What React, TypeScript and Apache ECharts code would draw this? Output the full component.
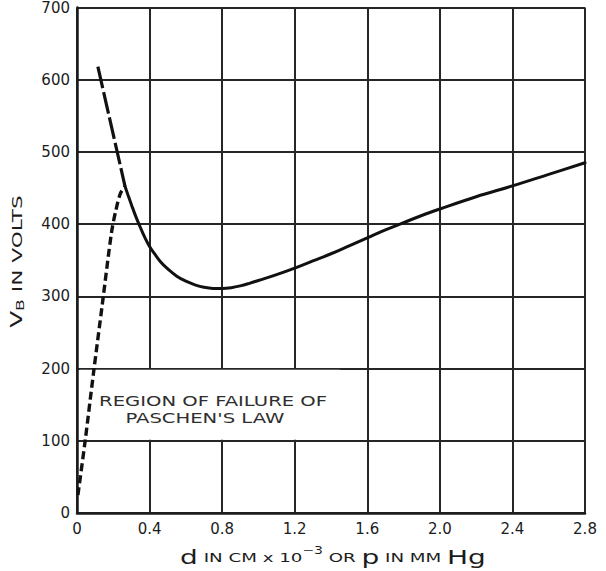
import React, { useEffect, useRef } from "react";
import * as echarts from "echarts";

// X axis: d in cm x 10^-3 (or p in mm Hg); Y axis: V_B in volts
const xMin = 0;
const xMax = 2.8;
const xStep = 0.4;
const yMin = 0;
const yMax = 700;
const yStep = 100;

// Solid curve (Paschen curve)
const solidX = [0.265, 0.28, 0.3, 0.325, 0.35, 0.375, 0.4, 0.43, 0.46, 0.5, 0.55, 0.6, 0.65, 0.7, 0.75, 0.8, 0.85, 0.9, 0.95, 1.0, 1.1, 1.2, 1.3, 1.4, 1.5, 1.6, 1.7, 1.8, 1.9, 2.0, 2.2, 2.4, 2.6, 2.8];
const solidY = [452, 441, 427, 410, 395, 381, 369, 358, 348, 338, 328, 321, 316, 312.5, 311, 311, 312, 314.5, 318, 322, 330, 339, 349, 359, 370, 381, 392, 402, 412, 421, 438, 453, 469, 485];

// Long-dash continuation (extrapolated Paschen law)
const longDashX = [0.115, 0.265];
const longDashY = [618, 452];

// Short-dash measured branch (failure of Paschen's law)
const shortDashX = [0.005, 0.045, 0.09, 0.14, 0.19, 0.215, 0.24, 0.265];
const shortDashY = [25, 100, 192, 290, 388, 420, 443, 452];

// Blank region behind the annotation (data coordinates)
const regionX = [0.015, 1.45];
const regionY = [101.5, 198.5];

const annotationLines = ["REGION OF FAILURE OF", "PASCHEN'S LAW"];

const zip = (xs: number[], ys: number[]) => xs.map((x, i) => [x, ys[i]]);

const INK = "#1c1c1c";
const FONT = "DejaVu Sans";

export default function App() {
  const ref = useRef<HTMLDivElement>(null);

  useEffect(() => {
    document.body.style.margin = "0";
    const chart = echarts.init(ref.current!, null, { renderer: "svg" });

    const axisCommon = {
      type: "value" as const,
      axisLine: { show: true, lineStyle: { color: INK, width: 2.5 } },
      axisTick: { show: false },
      splitLine: { show: true, lineStyle: { color: "#262626", width: 2 } },
    };

    const option: any = {
      animation: false,
      backgroundColor: "#ffffff",
      grid: { left: 77, right: 21, top: 5, bottom: 58, containLabel: false },
      xAxis: {
        ...axisCommon,
        min: xMin,
        max: xMax,
        interval: xStep,
        axisLabel: {
          color: INK,
          fontSize: 15,
          fontFamily: FONT,
          margin: 8,
          formatter: (v: number) => (v === 0 ? "0" : v.toFixed(1)),
        },
      },
      yAxis: {
        ...axisCommon,
        min: yMin,
        max: yMax,
        interval: yStep,
        axisLabel: {
          color: INK,
          fontSize: 15,
          fontFamily: FONT,
          margin: 7,
        },
      },
      series: [
        {
          name: "region",
          type: "line",
          data: [],
          silent: true,
          markArea: {
            silent: true,
            itemStyle: { color: "#ffffff" },
            data: [[{ coord: [regionX[0], regionY[0]] }, { coord: [regionX[1], regionY[1]] }]],
          },
        },
        {
          name: "Paschen curve",
          type: "line",
          data: zip(solidX, solidY),
          smooth: 0.4,
          showSymbol: false,
          lineStyle: { color: "#111", width: 3, cap: "round" },
          z: 5,
        },
        {
          name: "Extrapolation",
          type: "line",
          data: zip(longDashX, longDashY),
          showSymbol: false,
          lineStyle: { color: "#111", width: 3.2, type: [22, 4] },
          z: 5,
        },
        {
          name: "Failure branch",
          type: "line",
          data: zip(shortDashX, shortDashY),
          smooth: 0.3,
          showSymbol: false,
          lineStyle: { color: "#111", width: 3.4, type: [8, 4] },
          z: 5,
        },
      ],
    };

    chart.setOption(option);

    const p1 = chart.convertToPixel({ gridIndex: 0 }, [0.75, 155.5]) as number[];
    const p2 = chart.convertToPixel({ gridIndex: 0 }, [0.705, 131]) as number[];
    const xTitle = chart.convertToPixel({ gridIndex: 0 }, [(xMin + xMax) / 2, yMin]) as number[];
    const yTitle = chart.convertToPixel({ gridIndex: 0 }, [xMin, 340]) as number[];

    chart.setOption({
      graphic: [
        {
          type: "text",
          x: p1[0],
          y: p1[1],
          scaleX: 1.4,
          z: 10,
          style: {
            text: annotationLines[0],
            font: `14px ${FONT}`,
            fill: "#2e2e2e",
            align: "center",
            verticalAlign: "middle",
          },
        },
        {
          type: "text",
          x: p2[0],
          y: p2[1],
          scaleX: 1.4,
          z: 10,
          style: {
            text: annotationLines[1],
            font: `14px ${FONT}`,
            fill: "#2e2e2e",
            align: "center",
            verticalAlign: "middle",
          },
        },
        {
          type: "text",
          x: xTitle[0] + 2,
          y: xTitle[1] + 44,
          scaleX: 1.4,
          style: {
            text: "{b|d}{s| IN CM x 10}{u|−3}{s| OR }{b|p}{s| IN MM }{b|Hg}",
            fill: INK,
            align: "center",
            verticalAlign: "middle",
            rich: {
              b: { fontSize: 20, fontFamily: FONT, fill: INK, lineHeight: 22 },
              s: { fontSize: 13, fontFamily: FONT, fill: INK, lineHeight: 22 },
              u: { fontSize: 10, fontFamily: FONT, fill: INK, lineHeight: 10, verticalAlign: "top" },
            },
          },
        },
        {
          type: "text",
          x: 17,
          y: yTitle[1] - 6,
          rotation: Math.PI / 2,
          scaleX: 1.55,
          style: {
            text: "{v|V}{s|B}{t| IN VOLTS}",
            fill: INK,
            align: "center",
            verticalAlign: "middle",
            rich: {
              v: { fontSize: 16, fontFamily: FONT, fill: INK, lineHeight: 18 },
              s: { fontSize: 11, fontFamily: FONT, fill: INK, lineHeight: 11, verticalAlign: "bottom" },
              t: { fontSize: 14, fontFamily: FONT, fill: INK, lineHeight: 18 },
            },
          },
        },
      ],
    });

    return () => chart.dispose();
  }, []);

  return <div ref={ref} style={{ width: 606, height: 571 }} />;
}
